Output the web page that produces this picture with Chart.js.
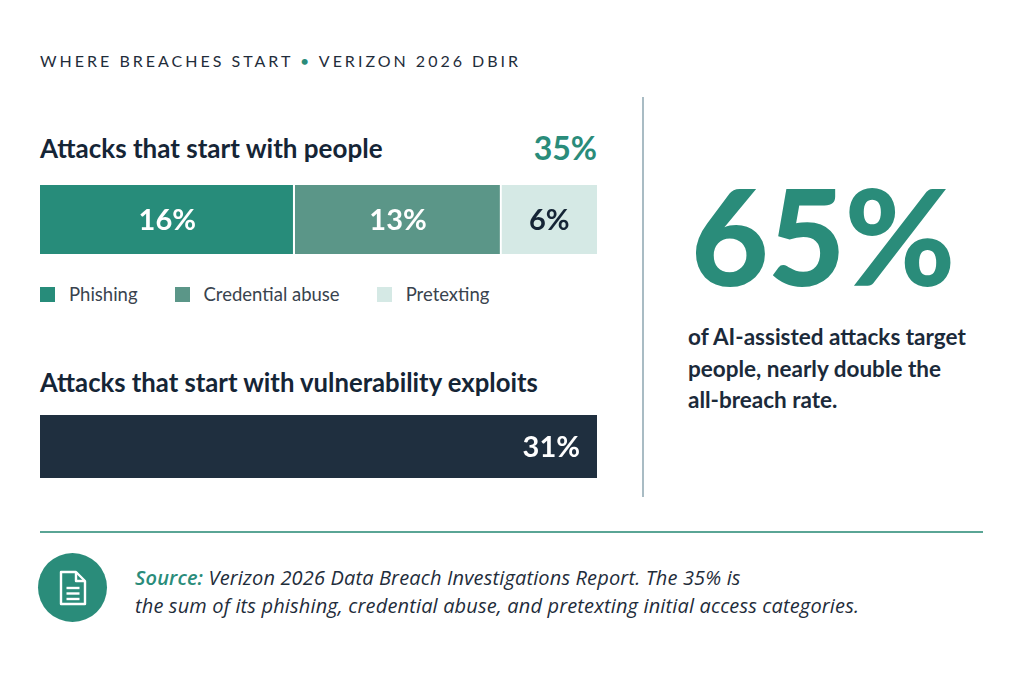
<!DOCTYPE html>
<html>
<head>
<meta charset="utf-8">
<script src="https://cdn.jsdelivr.net/npm/chart.js@4.4.1/dist/chart.umd.min.js"></script>
<style>
  html, body { margin: 0; padding: 0; background: #ffffff; }
  body { width: 1024px; height: 683px; position: relative; overflow: hidden; font-family: Lato, "Open Sans", sans-serif; color: #1b2a3a; }
  .abs { position: absolute; white-space: nowrap; }
  #kicker { left: 40px; top: 51px; font-size: 16px; letter-spacing: 3px; color: #1f2d3b; }
  #kicker .dot { color: #2a8c7a; }
  .title { font-size: 26px; font-weight: 700; color: #152536; }
  #title1 { left: 40px; top: 132px; }
  #total1 { left: 460px; width: 137px; text-align: right; top: 128px; font-size: 32px; font-weight: 700; color: #2a8c7a; }
  #title2 { left: 40px; top: 367px; font-size: 25.7px; }
  .wrap { position: absolute; left: 40px; width: 557px; }
  #wrap1 { top: 185px; height: 69px; }
  #wrap2 { top: 415px; height: 63px; }
  #legend { left: 40px; top: 283px; font-size: 18.5px; color: #39434e; display: flex; }
  #legend .item { display: flex; align-items: center; margin-right: 37px; }
  #legend .sw { width: 15px; height: 15px; margin-right: 14px; }
  #divider { left: 642px; top: 97px; width: 1.5px; height: 400px; background: #a9bcc4; }
  #big { left: 691px; top: 168px; font-size: 134px; font-weight: 900; color: #2a8c7a; line-height: 1; letter-spacing: -1px; }
  #note { left: 688px; top: 321px; font-size: 22.5px; font-weight: 700; line-height: 31.5px; color: #1b2a3a; }
  #rule { left: 40px; top: 531px; width: 943px; height: 2px; background: #5aa595; }
  #icon { left: 38px; top: 553px; width: 69px; height: 69px; border-radius: 50%; background: #2a8c7a; }
  #source { left: 135px; top: 564px; font-family: "Open Sans", sans-serif; font-size: 20px; letter-spacing: 0.15px; font-style: italic; line-height: 28px; color: #1f2d3b; }
  #source b { color: #2a8c7a; font-weight: 600; }
</style>
</head>
<body>
<div id="kicker" class="abs">WHERE BREACHES START <span class="dot">•</span> VERIZON 2026 DBIR</div>

<div id="title1" class="abs title">Attacks that start with people</div>
<div id="total1" class="abs"></div>
<div id="wrap1" class="wrap"><canvas id="peopleChart"></canvas></div>
<div id="legend" class="abs"></div>

<div id="title2" class="abs title">Attacks that start with vulnerability exploits</div>
<div id="wrap2" class="wrap"><canvas id="vulnChart"></canvas></div>

<div id="divider" class="abs"></div>
<div id="big" class="abs">65%</div>
<div id="note" class="abs">of AI-assisted attacks target<br>people, nearly double the<br>all-breach rate.</div>

<div id="rule" class="abs"></div>
<div id="icon" class="abs">
  <svg width="69" height="69" viewBox="0 0 69 69">
    <path d="M23 19 H38 L47 28 V51 H23 Z" fill="none" stroke="#fff" stroke-width="2.4" stroke-linejoin="round"/>
    <path d="M38 19 V28 H47" fill="none" stroke="#fff" stroke-width="2.4" stroke-linejoin="round"/>
    <line x1="28.5" y1="35" x2="41.5" y2="35" stroke="#fff" stroke-width="2.4"/>
    <line x1="28.5" y1="40.5" x2="41.5" y2="40.5" stroke="#fff" stroke-width="2.4"/>
    <line x1="28.5" y1="46" x2="41.5" y2="46" stroke="#fff" stroke-width="2.4"/>
  </svg>
</div>
<div id="source" class="abs"><b>Source:</b> Verizon 2026 Data Breach Investigations Report. The 35% is<br>the sum of its phishing, credential abuse, and pretexting initial access categories.</div>

<script>
// people-driven initial access categories (%)
const peopleLabels = ['Phishing', 'Credential abuse', 'Pretexting'];
const peopleValues = [16, 13, 6];
const peopleColors = ['#278c7a', '#5b9688', '#d5e9e5'];
const peopleText = ['#ffffff', '#ffffff', '#152536'];

// vulnerability exploits (%)
const vulnLabels = ['Vulnerability exploits'];
const vulnValues = [31];
const vulnColors = ['#1f2f3f'];

const peopleTotal = peopleValues.reduce((a, b) => a + b, 0);
document.getElementById('total1').textContent = peopleTotal + '%';

// html legend for the first bar
const legendEl = document.getElementById('legend');
peopleLabels.forEach((lab, i) => {
  const item = document.createElement('div');
  item.className = 'item';
  item.innerHTML = '<span class="sw" style="background:' + peopleColors[i] + '"></span>' + lab;
  legendEl.appendChild(item);
});

// write the value inside each bar segment
const segmentLabels = {
  id: 'segmentLabels',
  afterDatasetsDraw(chart, args, opts) {
    const ctx = chart.ctx;
    ctx.save();
    ctx.font = '700 29px Lato, sans-serif';
    ctx.textBaseline = 'middle';
    chart.data.datasets.forEach((ds, i) => {
      chart.getDatasetMeta(i).data.forEach((bar, j) => {
        const txt = ds.data[j] + '%';
        ctx.fillStyle = opts.colors[i];
        if (opts.align === 'end') {
          ctx.textAlign = 'right';
          ctx.fillText(txt, bar.x - 17, bar.y + 1);
        } else {
          ctx.textAlign = 'center';
          ctx.fillText(txt, (bar.x + bar.base) / 2, bar.y + 1);
        }
      });
    });
    ctx.restore();
  }
};

function barOptions(max, labelOpts) {
  return {
    indexAxis: 'y',
    responsive: true,
    maintainAspectRatio: false,
    animation: false,
    layout: { padding: 0 },
    scales: {
      x: { stacked: true, display: false, min: 0, max: max },
      y: { stacked: true, display: false }
    },
    plugins: {
      legend: { display: false },
      tooltip: { enabled: false },
      segmentLabels: labelOpts
    }
  };
}

new Chart(document.getElementById('peopleChart'), {
  type: 'bar',
  data: {
    labels: ['People'],
    datasets: peopleValues.map((v, i) => ({
      label: peopleLabels[i],
      data: [v],
      backgroundColor: peopleColors[i],
      borderColor: '#ffffff',
      borderWidth: i < peopleValues.length - 1 ? { right: 2, left: 0, top: 0, bottom: 0 } : 0,
      borderSkipped: false,
      categoryPercentage: 1,
      barPercentage: 1
    }))
  },
  options: barOptions(peopleTotal, { colors: peopleText, align: 'center' }),
  plugins: [segmentLabels]
});

new Chart(document.getElementById('vulnChart'), {
  type: 'bar',
  data: {
    labels: ['Exploits'],
    datasets: [{
      label: vulnLabels[0],
      data: vulnValues,
      backgroundColor: vulnColors[0],
      borderWidth: 0,
      categoryPercentage: 1,
      barPercentage: 1
    }]
  },
  options: barOptions(vulnValues[0], { colors: ['#ffffff'], align: 'end' }),
  plugins: [segmentLabels]
});
</script>
</body>
</html>
